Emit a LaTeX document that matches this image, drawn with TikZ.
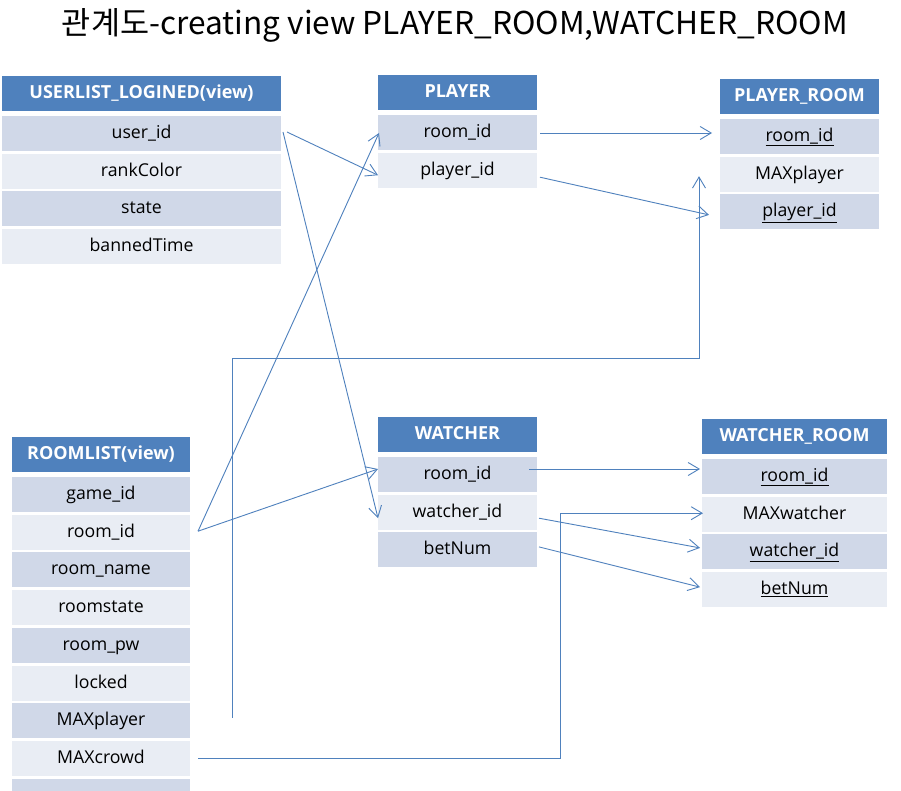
\documentclass[tikz,border=0pt]{standalone}
\usepackage{fontspec}
\setmainfont{Open Sans}
\newfontfamily\krfont{Noto Sans CJK KR}
\usetikzlibrary{arrows.meta,calc}
\definecolor{hdr}{HTML}{4F81BD}
\definecolor{rowdark}{HTML}{D0D8E8}
\definecolor{rowlight}{HTML}{E9EDF4}
\definecolor{linkc}{HTML}{4F81BD}
\tikzset{
  cell/.style={inner sep=0pt, outer sep=0pt, minimum height=35pt, anchor=north west,
    text height=14pt, text depth=4pt,
    font=\fontsize{17.7}{20}\selectfont, text=black},
  hdrcell/.style={cell, fill=hdr, text=white, font=\fontsize{18}{21}\selectfont\bfseries},
  darkcell/.style={cell, fill=rowdark},
  lightcell/.style={cell, fill=rowlight},
  link/.style={draw=linkc, line width=0.9pt,
    -{Straight Barb[length=11pt,width=13pt,line width=0.9pt]}},
}
\begin{document}
\begin{tikzpicture}[x=1pt,y=-1pt]
\useasboundingbox (0,0) rectangle (901,790);
\clip (0,0) rectangle (901,790);
\fill[white] (0,0) rectangle (901,790);

% title
\node[anchor=base, inner sep=0pt] (title) at (455,34)
  {\resizebox{786pt}{26pt}{\krfont 관계도-creating view PLAYER\_ROOM,WATCHER\_ROOM}};

% USERLIST_LOGINED(view)
\begin{scope}[every node/.append style={minimum width=279pt}]
\node[hdrcell] (u0) at (2,76) {USERLIST\_LOGINED(view)};
\node[darkcell] (u1) at (2,116) {user\_id};
\node[lightcell] (u2) at (2,153.7) {rankColor};
\node[darkcell] (u3) at (2,191.4) {state};
\node[lightcell] (u4) at (2,229.1) {bannedTime};
\end{scope}

% PLAYER
\begin{scope}[every node/.append style={minimum width=159pt}]
\node[hdrcell] (p0) at (378,75) {PLAYER};
\node[darkcell] (p1) at (378,115) {room\_id};
\node[lightcell] (p2) at (378,152.7) {player\_id};
\end{scope}

% PLAYER_ROOM
\begin{scope}[every node/.append style={minimum width=159pt}]
\node[hdrcell] (pr0) at (720,79) {PLAYER\_ROOM};
\node[darkcell] (pr1) at (720,119) {\underline{room\_id}};
\node[lightcell] (pr2) at (720,156.7) {MAXplayer};
\node[darkcell] (pr3) at (720,194.4) {\underline{player\_id}};
\end{scope}

% WATCHER
\begin{scope}[every node/.append style={minimum width=159pt}]
\node[hdrcell] (w0) at (378,417) {WATCHER};
\node[darkcell] (w1) at (378,457) {room\_id};
\node[lightcell] (w2) at (378,494.7) {watcher\_id};
\node[darkcell] (w3) at (378,532.4) {betNum};
\end{scope}

% WATCHER_ROOM
\begin{scope}[every node/.append style={minimum width=185pt}]
\node[hdrcell] (wr0) at (702,419) {WATCHER\_ROOM};
\node[darkcell] (wr1) at (702,459) {\underline{room\_id}};
\node[lightcell] (wr2) at (702,496.7) {MAXwatcher};
\node[darkcell] (wr3) at (702,534.4) {\underline{watcher\_id}};
\node[lightcell] (wr4) at (702,572.1) {\underline{betNum}};
\end{scope}

% ROOMLIST(view)
\begin{scope}[every node/.append style={minimum width=178pt}]
\node[hdrcell] (r0) at (12,437) {ROOMLIST(view)};
\node[darkcell] (r1) at (12,477) {game\_id};
\node[lightcell] (r2) at (12,514.7) {room\_id};
\node[darkcell] (r3) at (12,552.4) {room\_name};
\node[lightcell] (r4) at (12,590.1) {roomstate};
\node[darkcell] (r5) at (12,627.8) {room\_pw};
\node[lightcell] (r6) at (12,665.5) {locked};
\node[darkcell] (r7) at (12,703.2) {MAXplayer};
\node[lightcell] (r8) at (12,740.9) {MAXcrowd};
\node[darkcell] (r9) at (12,778.6) {};
\end{scope}

% connectors
\draw[link] ($(u1.east)+(6,-1.5)$) -- ($(p2.west)+(0,5)$);
\draw[link] ($(u1.east)+(2,-1.5)$) -- ($(w2.west)+(0,6)$);
\draw[link] ($(r2.east)+(8,-1)$) -- ($(p1.west)+(1,0.5)$);
\draw[link] ($(r2.east)+(8,-1)$) -- ($(w1.west)+(0,-5.5)$);
\draw[link] ($(p1.east)+(3,0.5)$) -- ($(pr1.west)+(-8,-3.5)$);
\draw[link] ($(p2.east)+(3,7)$) -- ($(pr3.west)+(-11,3)$);

\coordinate (mp) at ($(r7.east)+(42,-3)$);
\coordinate (pmx) at ($(pr2.west)+(-21,2)$);
\draw[link] (mp) |- ($(pmx)+(0,182)$) -- (pmx);

\coordinate (mc) at ($(r8.east)+(8,0.5)$);
\coordinate (mw) at ($(wr2.west)+(1,-1)$);
\draw[link] (mc) -| ($(mw)+(-143,0)$) -- (mw);

\draw[link] ($(w1.east)+(-8,-5.5)$) -- ($(wr1.west)+(-2,-7.5)$);
\draw[link] ($(w2.east)+(2,6)$) -- ($(wr3.west)+(-2,-4)$);
\draw[link] ($(w3.east)+(2,-3)$) -- ($(wr4.west)+(-2,-2.5)$);
\end{tikzpicture}
\end{document}
